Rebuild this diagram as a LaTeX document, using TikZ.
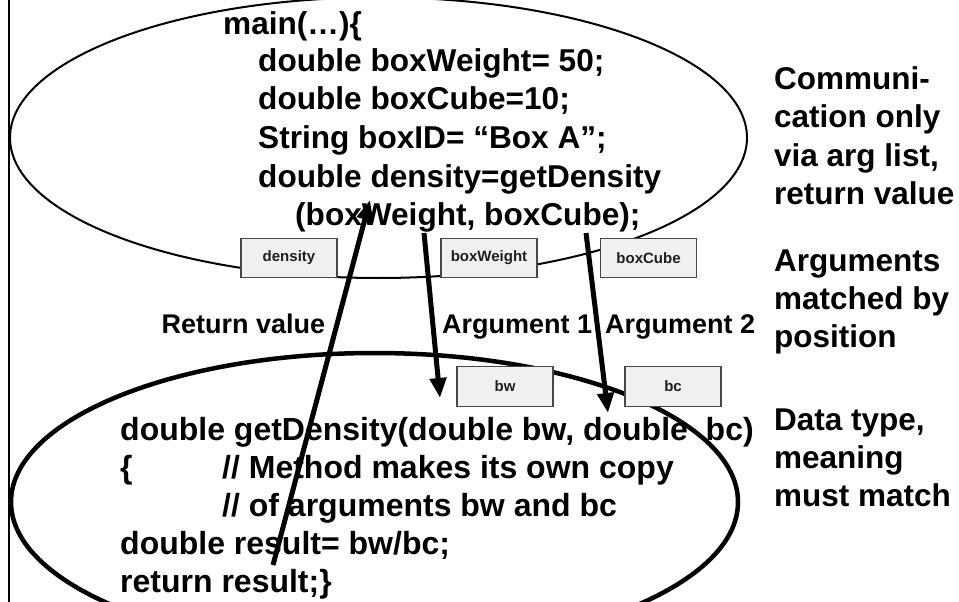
\documentclass[tikz,border=0pt]{standalone}
\usepackage{fontspec}
\setmainfont{Liberation Sans}
\usetikzlibrary{arrows.meta}
\begin{document}
\begin{tikzpicture}[x=1pt,y=-1pt,
  codeup/.style={anchor=base west,inner sep=0pt,font=\bfseries\fontsize{31.6}{38}\selectfont},
  codelow/.style={anchor=base west,inner sep=0pt,font=\bfseries\fontsize{32}{38}\selectfont},
  side/.style={anchor=base west,inner sep=0pt,font=\bfseries\fontsize{31.5}{38}\selectfont},
  lbl/.style={anchor=base west,inner sep=0pt,font=\bfseries\fontsize{27}{32}\selectfont},
  var/.style={draw=black!72,fill=black!6,line width=1.2pt,inner sep=0pt,
    minimum width=96pt,minimum height=39.5pt,font=\bfseries\fontsize{15}{18}\selectfont,text=black!88},
  flow/.style={line width=5pt,-{Triangle[length=20pt,width=16pt]}}]
\useasboundingbox (0,0) rectangle (959,602);
% slide border
\coordinate (bt) at (9,0);
\coordinate (bb) at (9,602);
\draw[line width=1.5pt] (bt) -- (bb);
% ellipses
\draw[line width=2pt] (378.5,137.7) ellipse [x radius=368.5pt, y radius=140.3pt];
\draw[line width=4.5pt] (374.5,502) ellipse [x radius=363.5pt, y radius=149pt];
% main code
\node[codeup] (m0) at (223,35) {main(…)\{};
\node[codeup] (m1) at (258,72) {double boxWeight= 50;};
\node[codeup] (m2) at (258,110) {double boxCube=10;};
\node[codeup] (m3) at (258,148) {String boxID= “Box A”;};
\node[codeup] (m4) at (258,187) {double density=getDensity};
\node[codeup] (m5) at (295,225) {(boxWeight, boxCube);};
% method code
\node[codelow] (g0) at (120,440) {double getDensity(double bw, double\ \ bc)};
\node[codelow] (g1) at (120,478) {\makebox[102pt][l]{\{}// Method makes its own copy};
\node[codelow] (g2) at (222,516) {// of arguments bw and bc};
\node[codelow] (g3) at (120,554) {double result= bw/bc;};
\node[codelow] (g4) at (120,592) {return result;\}};
% side notes
\node[side] (s1) at (774,90) {Communi-};
\node[side] (s2) at (774,128) {cation only};
\node[side] (s3) at (774,166) {via arg list,};
\node[side] (s4) at (774,204) {return value};
\node[side] (s5) at (774,271) {Arguments};
\node[side] (s6) at (774,309) {matched by};
\node[side] (s7) at (774,347) {position};
\node[side] (s8) at (774,430) {Data type,};
\node[side] (s9) at (774,468) {meaning};
\node[side] (s10) at (774,506) {must match};
% variable boxes
\node[var] (density) at (289,258) {density};
\node[var] (boxW) at (489,258) {boxWeight};
\node[var] (boxC) at (648.5,258) {boxCube};
\node[var] (bw) at (505,386.5) {bw};
\node[var] (bc) at (673,386.5) {bc};
% arrow labels
\node[lbl] (lret) at (161.5,333) {Return value};
\node[lbl] (la1) at (442,333) {Argument 1};
\node[lbl] (la2) at (605,333) {Argument 2};
% arrows
\coordinate (rs) at (273,565);
\coordinate (rt) at (370,200);
\coordinate (a1s) at (424,233);
\coordinate (a1t) at (440,398);
\coordinate (a2s) at (586,233);
\coordinate (a2t) at (608,413);
\draw[flow] (rs) -- (rt);
\draw[flow] (a1s) -- (a1t);
\draw[flow] (a2s) -- (a2t);
\end{tikzpicture}
\end{document}
